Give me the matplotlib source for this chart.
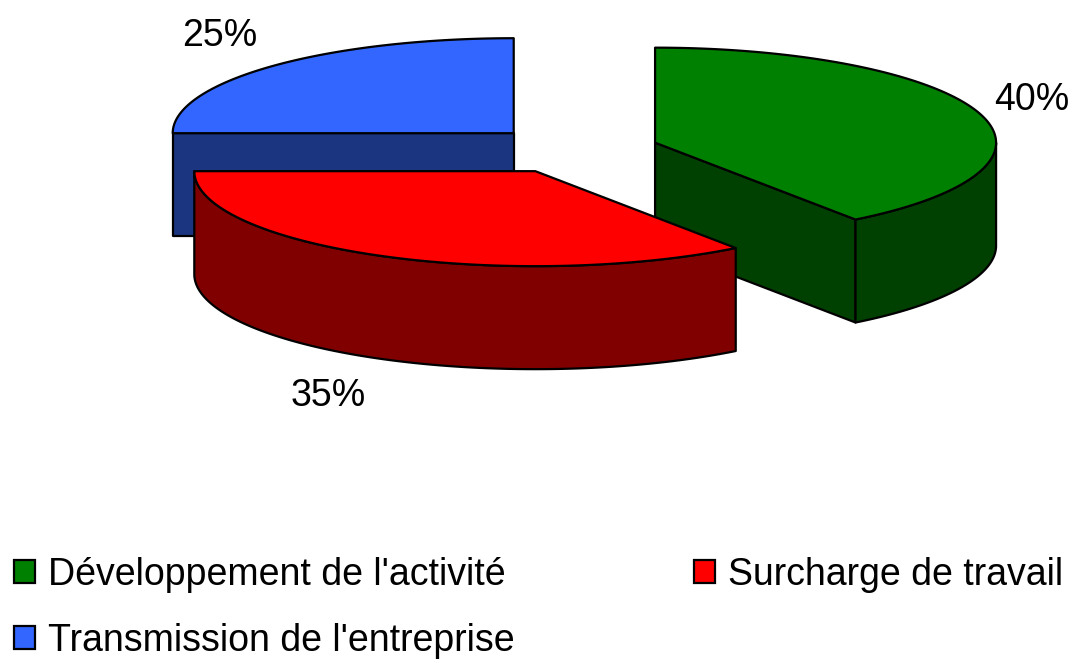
import numpy as np
import matplotlib.pyplot as plt
from matplotlib.patches import Polygon, Patch

plt.rcParams['font.family'] = ['Liberation Sans', 'DejaVu Sans']

labels = ["Développement de l'activité", "Surcharge de travail", "Transmission de l'entreprise"]
values = [40, 35, 25]
pct_labels = ["40%", "35%", "25%"]
top_colors = ["#008000", "#ff0000", "#3366ff"]
side_colors = ["#004000", "#800000", "#1b3580"]

W, H = 1069, 663
cx, cy = 574, 150      # pie centre (pixels)
rx, ry = 341, 95       # ellipse radii of the top face
depth = 103
explode = 0.25
fs = 27

fig = plt.figure(figsize=(W / 100, H / 100), dpi=100)
ax = fig.add_axes([0, 0, 1, 1])
ax.set_xlim(0, W)
ax.set_ylim(H, 0)
ax.axis('off')


def ell(x0, y0, t):
    return x0 + rx * np.cos(t), y0 - ry * np.sin(t)


fracs = np.array(values) / sum(values)
ends = np.pi / 2 - 2 * np.pi * np.cumsum(fracs)
starts = ends + 2 * np.pi * fracs
mids = (starts + ends) / 2

edge = dict(edgecolor='black', linewidth=1.6, joinstyle='round')

# back wedges first
for i in np.argsort(-np.sin(mids)):
    s, e, m = starts[i], ends[i], mids[i]
    ox = cx + explode * rx * np.cos(m)
    oy = cy - explode * ry * np.sin(m)

    # radial cut faces
    for ang, vis in ((s, np.cos(s) < -1e-6), (e, np.cos(e) > 1e-6)):
        if vis:
            px, py = ell(ox, oy, ang)
            ax.add_patch(Polygon([(ox, oy), (px, py), (px, py + depth), (ox, oy + depth)],
                                 closed=True, facecolor=side_colors[i], **edge))

    # outer curved side (front part only)
    t = np.linspace(e, s, 300)
    t = t[np.sin(t) <= 1e-9]
    if len(t) > 1:
        x, y = ell(ox, oy, t)
        pts = np.column_stack([np.r_[x, x[::-1]], np.r_[y, y[::-1] + depth]])
        ax.add_patch(Polygon(pts, closed=True, facecolor=side_colors[i], **edge))

    # top face
    t = np.linspace(e, s, 300)
    x, y = ell(ox, oy, t)
    pts = np.column_stack([np.r_[ox, x], np.r_[oy, y]])
    ax.add_patch(Polygon(pts, closed=True, facecolor=top_colors[i], **edge))

    # percentage label
    lx, ly = ell(ox, oy, m)
    if np.sin(m) < 0:
        ly += depth
    lx += 15 * np.sign(np.cos(m))
    ly -= 42 * np.sin(m)
    ax.text(lx, ly, pct_labels[i], fontsize=fs,
            ha='left' if np.cos(m) > 0 else 'right', va='center')

handles = [Patch(facecolor=c, edgecolor='black', linewidth=1.6) for c in top_colors]
order = [0, 2, 1]
fig.legend([handles[k] for k in order], [labels[k] for k in order],
           ncol=2, loc='lower left', bbox_to_anchor=(-0.0184, -0.0447),
           frameon=False, fontsize=fs, handlelength=0.55, handleheight=0.55,
           handletextpad=0.35, columnspacing=4.8, labelspacing=0.8)

fig.savefig('out.png', dpi=100)
